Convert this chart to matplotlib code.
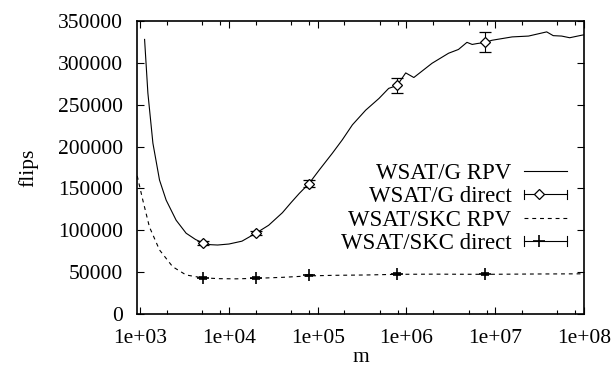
import matplotlib
matplotlib.use("Agg")
import matplotlib.pyplot as plt
from matplotlib.ticker import FixedLocator, NullFormatter
from matplotlib.legend_handler import HandlerBase
from matplotlib.lines import Line2D
from matplotlib.container import ErrorbarContainer

plt.rcParams['font.family'] = ['Liberation Serif', 'DejaVu Serif']

# WSAT/G RPV curve
g_rpv_m = [1.12e3, 1.22e3, 1.39e3, 1.65e3, 1.96e3, 2.54e3, 3.29e3, 4.2e3, 5.05e3, 6.2e3,
           7.45e3, 1.0e4, 1.4e4, 2.01e4, 2.8e4, 4.0e4, 5.0e4, 6.19e4, 8.0e4, 1.04e5, 1.46e5,
           1.89e5, 2.46e5, 3.47e5, 4.9e5, 6.3e5, 7.84e5, 9.8e5, 1.21e6, 1.94e6, 2.98e6,
           3.85e6, 4.8e6, 5.5e6, 6.2e6, 7.74e6, 9.2e6, 1.55e7, 2.37e7, 3.8e7, 4.5e7,
           5.6e7, 6.9e7, 9.4e7, 1.0e8]
g_rpv_flips = [328000, 264000, 204000, 160000, 136000, 112000, 96500, 89000, 85000, 82800,
               82400, 83600, 87000, 96500, 106000, 121000, 133000, 144000, 156000, 172000, 192000,
               208000, 226000, 243500, 257500, 269500, 273000, 288000, 282500, 299500, 311500,
               316000, 324500, 322000, 323000, 324500, 327000, 331000, 332000, 337000, 332500,
               332000, 330000, 333000, 333500]

# WSAT/SKC RPV curve
skc_rpv_m = [925, 1.07e3, 1.27e3, 1.65e3, 2.32e3, 3.29e3, 5.05e3, 7.8e3, 1.2e4, 2.01e4,
             4e4, 8e4, 1.5e5, 3.5e5, 7.84e5, 2e6, 7.74e6, 3e7, 1e8]
skc_rpv_flips = [165000, 136000, 104000, 76500, 56500, 46600, 43200, 42200, 42000, 42600,
                 43800, 45500, 46200, 46600, 47400, 47600, 47400, 47800, 48000]

# direct measurements
direct_m = [5.05e3, 2.01e4, 8.0e4, 7.84e5, 7.74e6]
g_direct = [85000, 96500, 155500, 273500, 325000]
g_direct_err = [2000, 2500, 4000, 9000, 12000]
skc_direct = [43000, 43200, 46000, 47200, 47600]
skc_direct_err = [800, 800, 1000, 1200, 1200]

xticks = [1e3, 1e4, 1e5, 1e6, 1e7, 1e8]
xtick_labels = ['1e+03', '1e+04', '1e+05', '1e+06', '1e+07', '1e+08']
yticks = list(range(0, 350001, 50000))


class HandlerGnuErr(HandlerBase):
    # gnuplot style key sample: |--o----|
    def create_artists(self, legend, orig_handle, xdescent, ydescent, width, height,
                       fontsize, trans):
        src = orig_handle.lines[0]
        y = height / 2 - ydescent
        x0, x1 = -xdescent, width - xdescent
        cap = 0.2 * fontsize
        arts = [Line2D([x0, x1], [y, y], color='k', lw=0.8),
                Line2D([x0, x0], [y - cap, y + cap], color='k', lw=0.8),
                Line2D([x1, x1], [y - cap, y + cap], color='k', lw=0.8),
                Line2D([x0 + 0.34 * (x1 - x0)], [y], ls='none', marker=src.get_marker(),
                       ms=src.get_markersize(), mfc='white', mec='k', mew=src.get_markeredgewidth())]
        for a in arts:
            a.set_transform(trans)
        return arts


fig = plt.figure(figsize=(6.16, 3.68), dpi=100)
ax = fig.add_axes([137 / 616, 54 / 368, 447 / 616, 293 / 368])

l1, = ax.plot(g_rpv_m, g_rpv_flips, color='k', lw=0.8, label='WSAT/G RPV')
e1 = ax.errorbar(direct_m, g_direct, yerr=g_direct_err, fmt='D', ms=5.5, mfc='white', mec='k',
                 mew=0.9, ecolor='k', elinewidth=0.8, capsize=4, capthick=0.8,
                 label='WSAT/G direct')
l2, = ax.plot(skc_rpv_m, skc_rpv_flips, color='k', lw=0.8, dashes=(3.5, 3.5),
              label='WSAT/SKC RPV')
e2 = ax.errorbar(direct_m, skc_direct, yerr=skc_direct_err, fmt='+', ms=8, mec='k',
                 mew=1.2, ecolor='k', elinewidth=0.8, capsize=3, capthick=0.8,
                 label='WSAT/SKC direct')

ax.set_xscale('log')
ax.set_xlim(920, 1e8)
ax.set_ylim(0, 350000)
ax.set_xticks(xticks)
ax.set_xticklabels(xtick_labels)
minor = [k * 10 ** e for e in range(3, 8) for k in (2, 5, 8)]
ax.xaxis.set_minor_locator(FixedLocator(minor))
ax.xaxis.set_minor_formatter(NullFormatter())
ax.set_yticks(yticks)
ax.set_yticklabels([str(v) for v in yticks])

ax.tick_params(which='both', direction='in', top=True, right=True, labelsize=15.5, width=0.8)
ax.tick_params(which='major', length=5)
ax.tick_params(which='minor', length=3)
ax.tick_params(axis='y', pad=10)
ax.tick_params(axis='x', pad=11)
for s in ax.spines.values():
    s.set_linewidth(1.2)

ax.set_xlabel('m', fontsize=15.5, labelpad=0)
ax.set_ylabel('flips', fontsize=15.5, labelpad=14)

ax.legend([l1, e1, l2, e2], ['WSAT/G RPV', 'WSAT/G direct', 'WSAT/SKC RPV', 'WSAT/SKC direct'],
          handler_map={ErrorbarContainer: HandlerGnuErr()},
          loc='center right', bbox_to_anchor=(0.961, 0.36), frameon=False,
          markerfirst=False, fontsize=16.5, handlelength=1.85, handletextpad=0.55,
          labelspacing=0.1, borderpad=0, borderaxespad=0)

fig.savefig('out.png', dpi=100)
